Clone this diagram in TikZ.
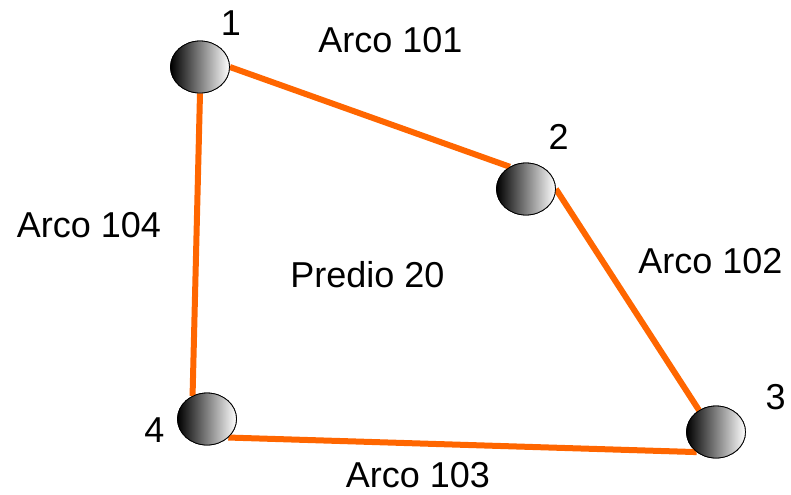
\documentclass[tikz,border=0pt]{standalone}
\usepackage{fontspec}
\setmainfont{Liberation Sans}
\usetikzlibrary{shapes.geometric}
\definecolor{arcorange}{RGB}{255,102,0}

\begin{document}
\begin{tikzpicture}[x=0.5pt, y=-0.5pt, every node/.style={font=\fontsize{18}{20}\selectfont, inner sep=0pt},
    vertex/.style={ellipse, draw=black, thin, minimum width=29.5pt, minimum height=26pt, left color=black, right color=white},
    arc/.style={draw=arcorange, line width=3pt}]
    \useasboundingbox (0,0) rectangle (791,494);
    % vertices
    \node[vertex] (n1) at (200,67) {};
    \node[vertex] (n2) at (526,189) {};
    \node[vertex] (n3) at (716,432) {};
    \node[vertex] (n4) at (207,419) {};
    % arcs
    \draw[arc] (n1.0) -- (n2.126);
    \draw[arc] (n2.0) -- (n3.128);
    \draw[arc] (n3.226) -- (n4.319);
    \draw[arc] (n4.122) -- (n1.270);
    % redraw vertices on top
    \node[vertex] at (n1) {};
    \node[vertex] at (n2) {};
    \node[vertex] at (n3) {};
    \node[vertex] at (n4) {};
    % labels
    \node[anchor=base] (l1) at (231,35) {1};
    \node[anchor=base] (l2) at (558.5,149) {2};
    \node[anchor=base] (l3) at (775.5,409) {3};
    \node[anchor=base] (l4) at (154.5,442) {4};
    \node[anchor=base] (a101) at (390.5,52) {Arco 101};
    \node[anchor=base] (a102) at (710.5,273) {Arco 102};
    \node[anchor=base] (a103) at (418,487) {Arco 103};
    \node[anchor=base] (a104) at (89,237) {Arco 104};
    \node[anchor=base] (predio) at (367.5,287) {Predio 20};
\end{tikzpicture}
\end{document}
